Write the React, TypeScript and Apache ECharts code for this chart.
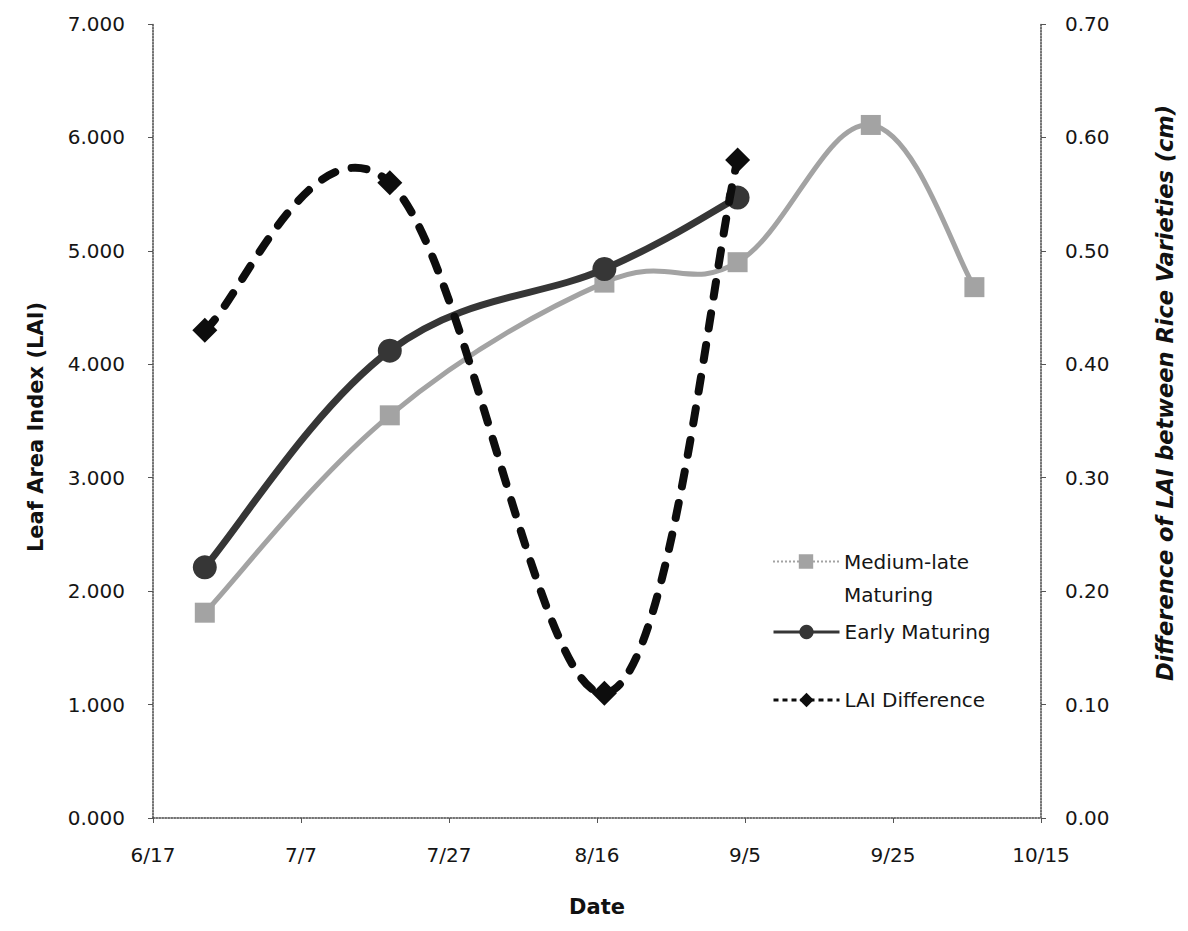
import React, { useEffect, useRef } from "react";
import * as echarts from "echarts";

// ---- data ----
const tickLabels = ["6/17", "7/7", "7/27", "8/16", "9/5", "9/25", "10/15"];

const mediumDates = ["6/24", "7/19", "8/17", "9/4", "9/22", "10/6"];
const mediumLAI = [1.81, 3.55, 4.72, 4.9, 6.11, 4.68];

const earlyDates = ["6/24", "7/19", "8/17", "9/4"];
const earlyLAI = [2.21, 4.12, 4.84, 5.47];

const diffDates = ["6/24", "7/19", "8/17", "9/4"];
const diffLAI = [0.43, 0.56, 0.11, 0.58];

const seriesNames = ["Medium-late Maturing", "Early Maturing", "LAI Difference"];

const FONT = '"DejaVu Sans", "Noto Sans", sans-serif';
const TENSION = 0.19;

function dayOf(s: string): number {
  const [m, d] = s.split("/").map(Number);
  const [m0, d0] = tickLabels[0].split("/").map(Number);
  return Math.round((Date.UTC(2001, m - 1, d) - Date.UTC(2001, m0 - 1, d0)) / 86400000);
}

function toPoints(dates: string[], values: number[]) {
  return dates.map((d, i) => [dayOf(d), values[i]]);
}

function curveSeries(name: string, pts: number[][], yAxisIndex: number, style: any, z: number) {
  return {
    type: "custom",
    name: name + " curve",
    yAxisIndex,
    z,
    silent: true,
    data: pts,
    renderItem: (params: any, api: any) => {
      if (params.dataIndex !== 0) return null;
      const p = pts.map((v) => api.coord(v));
      let d = `M${p[0][0]} ${p[0][1]}`;
      for (let i = 0; i < p.length - 1; i++) {
        const a = p[i - 1] || p[i];
        const b = p[i];
        const c = p[i + 1];
        const e = p[i + 2] || p[i + 1];
        const c1x = b[0] + (c[0] - a[0]) * TENSION;
        const c1y = b[1] + (c[1] - a[1]) * TENSION;
        const c2x = c[0] - (e[0] - b[0]) * TENSION;
        const c2y = c[1] - (e[1] - b[1]) * TENSION;
        d += ` C${c1x} ${c1y} ${c2x} ${c2y} ${c[0]} ${c[1]}`;
      }
      return {
        type: "path",
        shape: { pathData: d },
        style: {
          fill: "none",
          stroke: style.color,
          lineWidth: style.width,
          lineDash: style.dash || null,
          lineCap: style.cap || "round",
          lineJoin: "round",
        },
      };
    },
  };
}

function markerSeries(name: string, pts: number[][], yAxisIndex: number, symbol: string, size: number, color: string, z: number) {
  return {
    type: "line",
    name,
    yAxisIndex,
    z,
    data: pts,
    symbol,
    symbolSize: size,
    showSymbol: true,
    showAllSymbol: true,
    lineStyle: { opacity: 0, width: 0 },
    itemStyle: { color, borderWidth: 0 },
    silent: true,
  };
}

export default function App() {
  const ref = useRef<HTMLDivElement>(null);

  useEffect(() => {
    document.body.style.margin = "0";
    if (!ref.current) return;
    const chart = echarts.init(ref.current, undefined, { renderer: "svg" });

    const mediumPts = toPoints(mediumDates, mediumLAI);
    const earlyPts = toPoints(earlyDates, earlyLAI);
    const diffPts = toPoints(diffDates, diffLAI);

    const MED = "#a3a3a3";
    const EARLY = "#363636";
    const DIFF = "#0d0d0d";

    const axisLine = { show: true, lineStyle: { color: "#444", type: "dotted", width: 1.5 } };
    const axisTick = { show: true, length: 5, lineStyle: { color: "#555", width: 1 } };
    const labelStyle = { fontSize: 20, color: "#151515", fontFamily: FONT };
    const titleStyle = { fontSize: 21, fontWeight: "bold", color: "#111", fontFamily: FONT };

    const legendBase = {
      orient: "vertical",
      itemWidth: 66,
      itemHeight: 18,
      padding: 0,
      selectedMode: false,
      left: 772,
    };

    chart.setOption({
      animation: false,
      backgroundColor: "#ffffff",
      textStyle: { fontFamily: FONT },
      grid: { left: 153, right: 147, top: 24, bottom: 113, containLabel: false },
      xAxis: {
        type: "value",
        min: 0,
        max: 120,
        interval: 20,
        axisLine,
        axisTick,
        splitLine: { show: false },
        axisLabel: {
          ...labelStyle,
          margin: 27,
          formatter: (v: number) => tickLabels[Math.round(v / 20)] ?? "",
        },
        name: "Date",
        nameLocation: "middle",
        nameGap: 78,
        nameTextStyle: titleStyle,
      },
      yAxis: [
        {
          type: "value",
          position: "left",
          min: 0,
          max: 7,
          interval: 1,
          axisLine,
          axisTick,
          splitLine: { show: false },
          axisLabel: { ...labelStyle, margin: 28, formatter: (v: number) => v.toFixed(3) },
          name: "Leaf Area Index (LAI)",
          nameLocation: "middle",
          nameRotate: 90,
          nameGap: 107,
          nameTextStyle: { ...titleStyle, padding: [0, 12, 0, 0] },
        },
        {
          type: "value",
          position: "right",
          min: 0,
          max: 0.7,
          interval: 0.1,
          axisLine,
          axisTick,
          splitLine: { show: false },
          axisLabel: { ...labelStyle, margin: 24, formatter: (v: number) => v.toFixed(2) },
          name: "Difference of LAI between Rice Varieties (cm)",
          nameLocation: "middle",
          nameRotate: 90,
          nameGap: 112,
          nameTextStyle: { ...titleStyle, fontSize: 22.5, fontStyle: "italic", padding: [0, 0, 0, 56] },
        },
      ],
      legend: [
        {
          ...legendBase,
          top: 512,
          data: [
            {
              name: seriesNames[0],
              lineStyle: { color: MED, width: 2, type: "dotted", opacity: 1 },
            },
          ],
          formatter: () => "\nMedium-late\nMaturing",
          textStyle: { ...labelStyle, lineHeight: 33 },
        },
        {
          ...legendBase,
          top: 620,
          data: [
            {
              name: seriesNames[1],
              lineStyle: { color: EARLY, width: 3, type: "solid", opacity: 1 },
            },
          ],
          textStyle: { ...labelStyle, lineHeight: 24 },
        },
        {
          ...legendBase,
          top: 688,
          data: [
            {
              name: seriesNames[2],
              lineStyle: { color: DIFF, width: 3, type: [5, 4], opacity: 1 },
            },
          ],
          textStyle: { ...labelStyle, lineHeight: 24 },
        },
      ],
      series: [
        curveSeries(seriesNames[0], mediumPts, 0, { color: MED, width: 5 }, 2),
        markerSeries(seriesNames[0], mediumPts, 0, "rect", 20, MED, 3),
        curveSeries(seriesNames[1], earlyPts, 0, { color: EARLY, width: 7 }, 4),
        markerSeries(seriesNames[1], earlyPts, 0, "circle", 24, EARLY, 5),
        curveSeries(seriesNames[2], diffPts, 1, { color: DIFF, width: 8, dash: [15, 17], cap: "round" }, 6),
        markerSeries(seriesNames[2], diffPts, 1, "diamond", 25, DIFF, 7),
      ],
    });

    return () => chart.dispose();
  }, []);

  return <div ref={ref} style={{ width: 1188, height: 931 }} />;
}
